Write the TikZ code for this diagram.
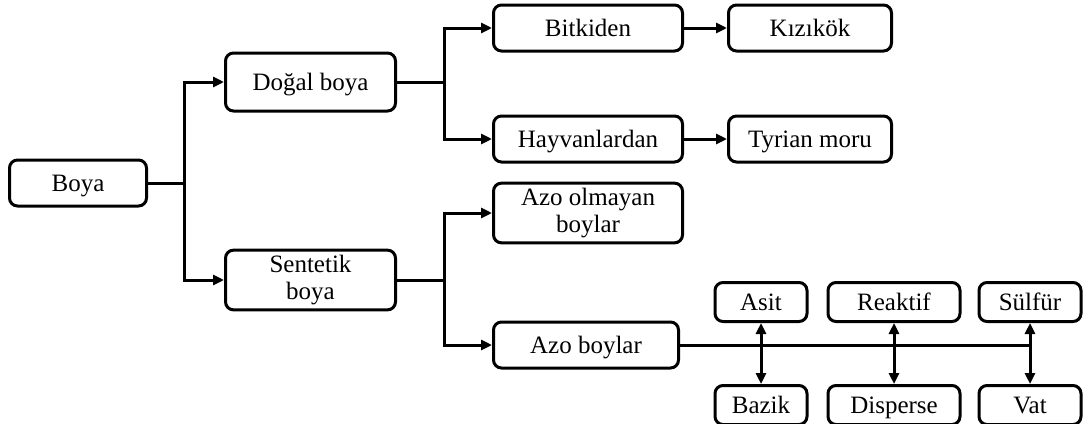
\documentclass[tikz,border=0pt]{standalone}
\usepackage{fontspec}
\setmainfont{Liberation Serif}
\usepackage{tikz}
\usetikzlibrary{arrows.meta, positioning}

\begin{document}
\begin{tikzpicture}[
  x=1pt, y=1pt,
  font=\fontsize{25}{27}\selectfont,
  box/.style   ={draw, line width=3pt, rounded corners=8pt, align=center,
                 inner xsep=2pt, inner ysep=5pt, minimum height=46pt},
  one/.style   ={box, text height=20pt, text depth=4pt},
  root/.style  ={one, minimum width=137pt},
  mid/.style   ={box, minimum width=170pt},
  leaf/.style  ={one, minimum width=189pt},
  tip/.style   ={one, minimum width=163pt},
  kind/.style  ={one, inner ysep=2pt, minimum height=39pt},
  line/.style  ={line width=3pt},
  arr/.style   ={line, -{Triangle[length=11pt, width=10pt]}},
  darr/.style  ={line, {Triangle[length=11pt, width=10pt]}-{Triangle[length=11pt, width=10pt]}},
]
\useasboundingbox (0,0) rectangle (1083,-423);

% ================= left part =================
\node[root] (boya) at (78,-183) {Boya};
\node[mid, one, right=76pt of boya, yshift=101pt, minimum height=58pt] (dogal) {Doğal boya};
\node[mid, right=76pt of boya, yshift=-97pt] (sentetik) {Sentetik\\boya};

\draw[line] (boya.east) -- ++(36pt,0) coordinate (j1);
\draw[arr] (j1) |- (dogal.west);
\draw[arr] (j1) |- (sentetik.west);

% ================= natural dyes =================
\node[leaf, right=95pt of dogal, yshift=54pt] (bitki) {Bitkiden};
\node[leaf, right=95pt of dogal, yshift=-57pt] (hayvan) {Hayvanlardan};
\node[tip, right=43pt of bitki] (kizi) {Kızıkök};
\node[tip, right=43pt of hayvan] (tyrian) {Tyrian moru};

\draw[line] (dogal.east) -- ++(47pt,0) coordinate (j2);
\draw[arr] (j2) |- (bitki.west);
\draw[arr] (j2) |- (hayvan.west);
\draw[arr] (bitki) -- (kizi);
\draw[arr] (hayvan) -- (tyrian);

% ================= synthetic dyes =================
\node[box, minimum width=189pt, right=95pt of sentetik, yshift=67pt] (azoyok) {Azo olmayan\\boylar};
\node[leaf, minimum width=185pt, right=95pt of sentetik, yshift=-65pt] (azo) {Azo boylar};

\draw[line] (sentetik.east) -- ++(47pt,0) coordinate (j3);
\draw[arr] (j3) |- (azoyok.west);
\draw[arr] (j3) |- (azo.west);

% ================= azo dye classes =================
\node[kind, minimum width=92pt] (asit) at (761,-302) {Asit};
\node[kind, minimum width=132pt, right=18pt of asit] (reaktif) {Reaktif};
\node[kind, minimum width=102pt, right=16pt of reaktif] (sulfur) {Sülfür};
\node[kind, minimum width=92pt, below=61pt of asit] (bazik) {Bazik};
\node[kind, minimum width=132pt, below=61pt of reaktif] (disperse) {Disperse};
\node[kind, minimum width=102pt, below=61pt of sulfur] (vat) {Vat};

\draw[line] (azo.east) -- (azo.east -| vat.center);
\foreach \a/\b in {asit/bazik, reaktif/disperse, sulfur/vat}{\draw[darr] (\a) -- (\b);}

\end{tikzpicture}
\end{document}
